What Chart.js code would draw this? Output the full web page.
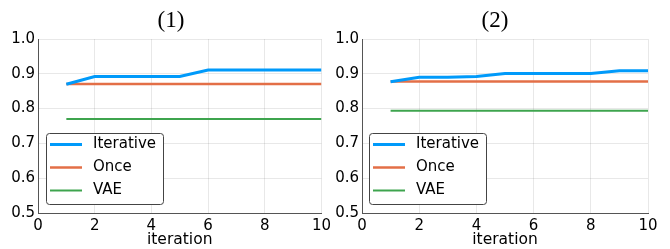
<!DOCTYPE html>
<html>
<head>
<meta charset="utf-8">
<script src="https://cdn.jsdelivr.net/npm/chart.js@4.4.1/dist/chart.umd.min.js"></script>
<style>
  html, body { margin: 0; padding: 0; background: #fff; }
  #wrap { position: relative; width: 670px; height: 249px; }
  .box { position: absolute; top: 0; height: 249px; }
</style>
</head>
<body>
<div id="wrap">
  <div class="box" style="left:0;width:335px"><canvas id="c1" width="335" height="249"></canvas></div>
  <div class="box" style="left:335px;width:335px"><canvas id="c2" width="335" height="249"></canvas></div>
</div>
<script>
// ---- data ----
const iterations = [1, 2, 3, 4, 5, 6, 7, 8, 9, 10];
const titles = ["(1)", "(2)"];
const seriesNames = ["Iterative", "Once", "VAE"];
const iterative1 = [0.870, 0.892, 0.892, 0.892, 0.892, 0.911, 0.911, 0.911, 0.911, 0.911];
const once1      = [0.871, 0.871, 0.871, 0.871, 0.871, 0.871, 0.871, 0.871, 0.871, 0.871];
const vae1       = [0.770, 0.770, 0.770, 0.770, 0.770, 0.770, 0.770, 0.770, 0.770, 0.770];
const iterative2 = [0.877, 0.890, 0.890, 0.892, 0.901, 0.901, 0.901, 0.901, 0.909, 0.909];
const once2      = [0.878, 0.878, 0.878, 0.878, 0.878, 0.878, 0.878, 0.878, 0.878, 0.878];
const vae2       = [0.794, 0.794, 0.794, 0.794, 0.794, 0.794, 0.794, 0.794, 0.794, 0.794];
const xTicks = [0, 2, 4, 6, 8, 10];
const yTicks = [0.5, 0.6, 0.7, 0.8, 0.9, 1.0];

const colors = ["#009AFA", "#E36F47", "#3EA44E"];
const widths = [3, 2.5, 2];
const SANS = "'DejaVu Sans', sans-serif";
const SERIF = "'Liberation Serif', 'Times New Roman', serif";

function pts(vals) { return iterations.map((x, i) => ({ x: x, y: vals[i] })); }

const legendPlugin = {
  id: 'boxLegend',
  afterDraw(chart, args, opts) {
    const ctx = chart.ctx;
    const a = chart.chartArea;
    // title
    ctx.save();
    ctx.fillStyle = '#000';
    ctx.font = '23px ' + SERIF;
    ctx.textAlign = 'center';
    ctx.textBaseline = 'middle';
    ctx.fillText(opts.title, opts.titleX, 21);
    // legend box
    const x0 = a.left + opts.bx, y0 = 133, w = 117, h = 71;
    ctx.fillStyle = '#fff';
    ctx.strokeStyle = '#444';
    ctx.lineWidth = 1;
    ctx.beginPath();
    if (ctx.roundRect) ctx.roundRect(x0 + 0.5, y0 + 0.5, w, h, 3); else ctx.rect(x0 + 0.5, y0 + 0.5, w, h);
    ctx.fill();
    ctx.stroke();
    ctx.font = '15px ' + SANS;
    ctx.textAlign = 'left';
    ctx.textBaseline = 'middle';
    chart.data.datasets.forEach((ds, i) => {
      const yy = y0 + 11.5 + i * 23;
      ctx.strokeStyle = ds.borderColor;
      ctx.lineWidth = ds.borderWidth;
      ctx.beginPath();
      ctx.moveTo(x0 + 4, yy);
      ctx.lineTo(x0 + 36, yy);
      ctx.stroke();
      ctx.fillStyle = '#000';
      ctx.fillText(ds.label, x0 + 47, yy);
    });
    ctx.restore();
  }
};

function makeChart(id, data, title, leftW, rightPad, titleX, bx) {
  return new Chart(document.getElementById(id), {
    type: 'line',
    data: {
      datasets: data.map((vals, i) => ({
        label: seriesNames[i],
        data: pts(vals),
        borderColor: colors[i],
        backgroundColor: colors[i],
        borderWidth: widths[i],
        pointRadius: 0,
        tension: 0,
        fill: false
      }))
    },
    options: {
      responsive: false,
      animation: false,
      layout: { padding: { top: 39, right: rightPad, left: 0, bottom: 0 } },
      plugins: {
        legend: { display: false },
        tooltip: { enabled: false },
        boxLegend: { title: title, titleX: titleX, bx: bx }
      },
      scales: {
        x: {
          type: 'linear',
          min: 0, max: 10,
          afterBuildTicks(s) { s.ticks = xTicks.map(v => ({ value: v })); },
          afterFit(s) { s.height = 36; },
          ticks: { color: '#000', font: { family: SANS, size: 15 }, padding: 4, maxRotation: 0, callback: v => String(v) },
          grid: { color: 'rgba(0,0,0,0.09)', drawTicks: false },
          border: { color: '#555', width: 1 },
          title: { display: true, text: 'iteration', color: '#000', font: { family: SANS, size: 15.5 }, padding: { top: 0, bottom: 0 } }
        },
        y: {
          type: 'linear',
          min: 0.5, max: 1.0,
          afterBuildTicks(s) { s.ticks = yTicks.map(v => ({ value: v })); },
          afterFit(s) { s.width = leftW; },
          ticks: { color: '#000', font: { family: SANS, size: 15 }, padding: 3, callback: v => Number(v).toFixed(1) },
          grid: { color: 'rgba(0,0,0,0.09)', drawTicks: false },
          border: { color: '#555', width: 1 }
        }
      }
    },
    plugins: [legendPlugin]
  });
}

makeChart('c1', [iterative1, once1, vae1], titles[0], 38, 12, 171, 8);
makeChart('c2', [iterative2, once2, vae2], titles[1], 27, 22, 160, 7);
</script>
</body>
</html>
